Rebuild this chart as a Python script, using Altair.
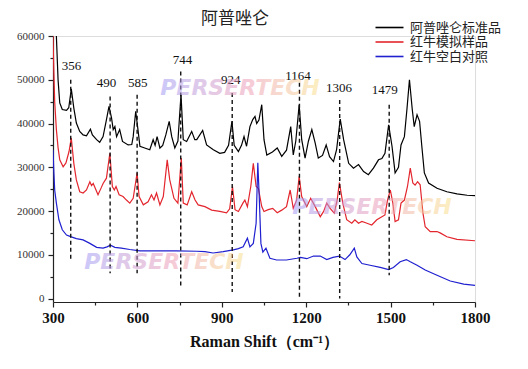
import altair as alt
import pandas as pd

# ---------------- data ----------------
series_names = ["阿普唑仑标准品", "红牛模拟样品", "红牛空白对照"]
series_colors = ["#000000", "#e3262d", "#2020d0"]

black_x = [303, 312, 318, 324, 333, 348, 356, 365, 374, 383, 395, 407, 419, 433, 440, 455, 466, 478, 490, 499,
           508, 514, 520, 526, 537, 547, 567, 580, 585, 594, 602, 609, 626, 644, 656, 663, 670, 680, 690, 701,
           713, 722, 733, 744, 755, 763, 775, 793, 804, 811, 832, 846, 870, 893, 910, 924, 936, 944, 959, 970,
           979, 988, 1000, 1010, 1018, 1024, 1032, 1042, 1050, 1060, 1080, 1097, 1113, 1130, 1145, 1154, 1163,
           1175, 1184, 1196, 1208, 1220, 1232, 1243, 1258, 1271, 1283, 1297, 1308, 1321, 1333, 1351, 1368, 1386,
           1404, 1421, 1439, 1457, 1469, 1480, 1493, 1505, 1516, 1528, 1537, 1549, 1558, 1567, 1577, 1584, 1594,
           1603, 1611, 1620, 1635, 1665, 1700, 1736, 1772, 1800]
black_y = [68000, 60000, 50000, 44700, 43200, 43000, 43600, 47900, 43500, 40100, 38200, 37400, 37200, 38700, 37400,
           36300, 35700, 37000, 40900, 43900, 41300, 38600, 39300, 37000, 38600, 35900, 35100, 35200, 37000, 42800,
           38600, 34800, 34400, 34000, 36300, 35000, 37000, 34400, 35000, 37400, 40500, 37000, 34400, 36000, 46600,
           36300, 35900, 38200, 36300, 36300, 38400, 35100, 34000, 33200, 33400, 35000, 40500, 35000, 33600, 35000,
           37000, 34800, 39300, 40900, 41600, 40000, 40800, 44300, 36300, 32800, 33500, 34400, 32500, 33900, 39300,
           32800, 36000, 44300, 36300, 32100, 36000, 38600, 35500, 32100, 32700, 35100, 32400, 31300, 34000, 41000,
           36300, 30900, 29800, 30600, 29000, 28300, 29800, 31700, 32000, 33200, 39700, 34800, 28700, 30000, 35100,
           37000, 43200, 50000, 43200, 39300, 42000, 40500, 34800, 28700, 26400, 25200, 24400, 23900, 23600, 23500]

red_x = [300, 303, 306, 312, 318, 324, 336, 346, 357, 365, 374, 383, 395, 407, 419, 431, 437, 443, 460, 472, 478,
         490, 502, 511, 518, 524, 535, 549, 561, 573, 585, 599, 606, 621, 638, 650, 659, 668, 680, 692, 706, 715,
         730, 744, 756, 763, 777, 793, 805, 816, 840, 864, 893, 917, 928, 938, 947, 959, 975, 982, 991, 1003, 1012,
         1022, 1030, 1042, 1050, 1065, 1081, 1097, 1113, 1130, 1143, 1154, 1166, 1175, 1184, 1202, 1216, 1232, 1250,
         1262, 1273, 1285, 1300, 1310, 1318, 1330, 1344, 1362, 1373, 1386, 1398, 1416, 1433, 1451, 1469, 1480, 1489,
         1499, 1508, 1516, 1528, 1537, 1549, 1560, 1570, 1579, 1587, 1596, 1605, 1615, 1623, 1641, 1665, 1676, 1700,
         1736, 1800]
red_y = [60000, 52000, 45000, 38600, 34500, 31700, 30100, 31000, 33600, 36700, 30900, 27100, 24400, 24100, 24800,
         26700, 25800, 26300, 23700, 25400, 26300, 27500, 33200, 25600, 24800, 25600, 23700, 23300, 22500, 21800,
         22900, 28700, 23300, 21400, 22100, 23700, 22500, 24100, 21400, 23300, 31700, 27100, 22900, 21800, 32100,
         21800, 21400, 24400, 22500, 21400, 21000, 20200, 19900, 19600, 20500, 25600, 20300, 19900, 21800, 22500,
         21000, 25600, 30900, 25600, 25200, 21000, 19900, 20300, 20600, 19600, 20200, 21000, 24800, 20600, 22500,
         27900, 23300, 21000, 22900, 21000, 18700, 19900, 21800, 20600, 19500, 22500, 26500, 21800, 18000, 17200,
         18000, 17200, 17600, 17200, 16800, 18000, 18700, 19100, 22500, 24800, 21800, 17600, 18000, 21800, 22500,
         25600, 29800, 26400, 25900, 26700, 26000, 19500, 16400, 15300, 15300, 15000, 14100, 13500, 13200]

blue_x = [300, 303, 306, 312, 321, 333, 348, 365, 383, 407, 431, 455, 478, 492, 504, 520, 543, 573, 609, 668, 739,
          811, 840, 869, 905, 941, 959, 976, 991, 1000, 1012, 1022, 1028, 1033, 1039, 1046, 1057, 1071, 1095, 1130,
          1167, 1180, 1202, 1226, 1250, 1273, 1295, 1318, 1338, 1355, 1371, 1380, 1398, 1427, 1463, 1493, 1510,
          1534, 1556, 1570, 1594, 1623, 1665, 1712, 1760, 1800]
blue_y = [34000, 29000, 24800, 21800, 18000, 15700, 14500, 14100, 13700, 13400, 12600, 11700, 11500, 11800, 12200,
          11700, 11500, 11200, 10900, 10900, 10900, 10800, 10700, 10400, 10700, 11100, 11400, 11800, 13800, 11800,
          12600, 17200, 31000, 23300, 12600, 10600, 11500, 9200, 8800, 8800, 9200, 9400, 9100, 9700, 9700, 8900,
          9400, 9700, 8900, 10000, 11500, 9500, 8000, 7600, 7100, 6600, 7100, 8400, 8900, 8400, 7600, 6500, 5300,
          4000, 3300, 3000]

peak_labels = ["356", "490", "585", "744", "924", "1164", "1306", "1479"]
peak_line_x = [363, 503, 599, 754, 937, 1176, 1319, 1495]
peak_line_top = [50000, 46200, 46600, 51900, 47000, 49300, 45400, 44300]
peak_line_bottom = [8800, 5800, 5800, 2700, 1500, 400, 0, 5300]
peak_label_x = [366, 490, 601, 760, 932, 1171, 1317, 1479]
peak_label_y = [53200, 49300, 49300, 54600, 50000, 50800, 48200, 47600]

title_text = "阿普唑仑"
x_title = "Raman Shift（cm⁻¹）"
x_ticks = [300, 600, 900, 1200, 1500, 1800]
x_minor = [450, 750, 1050, 1350, 1650]
y_ticks = [0, 10000, 20000, 30000, 40000, 50000, 60000]
y_minor = [5000, 15000, 25000, 35000, 45000, 55000]
watermark = "PERSERTECH"

# ---------------- tables ----------------
frames = []
for name, xs, ys in zip(series_names, [black_x, red_x, blue_x], [black_y, red_y, blue_y]):
    frames.append(pd.DataFrame({"x": xs, "y": ys, "series": name}))
df = pd.concat(frames, ignore_index=True)

peaks = pd.DataFrame({"label": peak_labels, "lx": peak_line_x, "top": peak_line_top,
                      "bottom": peak_line_bottom, "tx": peak_label_x, "ty": peak_label_y})

x_scale = alt.Scale(domain=[300, 1800], nice=False, zero=False)
y_scale = alt.Scale(domain=[-800, 60000], nice=False, zero=False)

SERIF = "Liberation Serif"
CJK = "Noto Sans CJK SC"

lines = alt.Chart(df).mark_line(strokeWidth=1.2, clip=True).encode(
    x=alt.X("x:Q", scale=x_scale,
            axis=alt.Axis(values=x_ticks, title=x_title, orient="bottom", grid=False, format="d",
                          labelFlush=False,
                          labelFont=SERIF, labelFontSize=15, labelFontWeight="bold", labelColor="#111",
                          titleFont=SERIF, titleFontSize=16, titleFontWeight="bold", titleColor="#111",
                          titlePadding=8, tickSize=5, labelPadding=3, tickColor="#222",
                          domainColor="#222", domainWidth=1.2, tickWidth=1.2)),
    y=alt.Y("y:Q", scale=y_scale,
            axis=alt.Axis(values=y_ticks, title=None, orient="left", grid=False, format="d",
                          labelFlush=False,
                          labelFont=SERIF, labelFontSize=11, labelColor="#333",
                          tickSize=5, labelPadding=4, tickColor="#222",
                          domainColor="#222", domainWidth=1.2, tickWidth=1.2)),
    color=alt.Color("series:N",
                    scale=alt.Scale(domain=series_names, range=series_colors),
                    legend=alt.Legend(title=None, orient="none", legendX=330, legendY=-15,
                                      symbolType="M-4,0H4", symbolSize=49, symbolStrokeWidth=1.6,
                                      labelFont=CJK, labelFontSize=13, labelColor="#222",
                                      labelOffset=14, rowPadding=0.5, padding=0)),
    detail="series:N",
)

minor = alt.Chart(df).mark_line(opacity=0).encode(
    x=alt.X("x:Q", scale=x_scale,
            axis=alt.Axis(values=x_minor, labels=False, title=None, orient="bottom", grid=False,
                          domain=False, tickSize=3, tickColor="#222", tickWidth=1.2)),
    y=alt.Y("y:Q", scale=y_scale,
            axis=alt.Axis(values=y_minor, labels=False, title=None, orient="left", grid=False,
                          domain=False, tickSize=3, tickColor="#222", tickWidth=1.2)),
    detail="series:N",
)

rules = alt.Chart(peaks).mark_rule(strokeDash=[4, 3], strokeWidth=1.4, color="#111").encode(
    x=alt.X("lx:Q", scale=x_scale, axis=None),
    y=alt.Y("top:Q", scale=y_scale, axis=None), y2="bottom:Q")

labels = alt.Chart(peaks).mark_text(font=SERIF, fontSize=13, color="#111", baseline="middle").encode(
    x=alt.X("tx:Q", scale=x_scale, axis=None),
    y=alt.Y("ty:Q", scale=y_scale, axis=None), text="label:N")

title = alt.Chart(pd.DataFrame({"t": [title_text]})).mark_text(
    font=CJK, fontSize=17, color="#222", baseline="middle").encode(
    text="t:N", x=alt.value(182), y=alt.value(-17))

grad = alt.LinearGradient(gradient="linear", x1=0, x2=1, y1=0, y2=0,
                          stops=[alt.GradientStop(color="#a29cf4", offset=0),
                                 alt.GradientStop(color="#ee9fb8", offset=0.55),
                                 alt.GradientStop(color="#f9e28f", offset=1)])
wm_df = pd.DataFrame({"t": [watermark]})
wm_layers = []
for wx, wy in [(187, 52), (111, 226), (319, 171)]:
    wm_layers.append(alt.Chart(wm_df).mark_text(
        font="DejaVu Sans", fontSize=22, fontWeight="bold", fontStyle="italic",
        fill=grad, opacity=0.55, baseline="middle").encode(
        text="t:N", x=alt.value(wx), y=alt.value(wy)))

chart = alt.layer(minor, lines, rules, labels, title, *wm_layers).resolve_axis(
    x="independent", y="independent").properties(
    width=422, height=266, autosize="none",
    padding={"left": 45, "top": 28, "right": 45, "bottom": 59},
).configure_view(stroke=None).configure(background="white")

chart.save("out.html", embed_options={"renderer": "svg", "actions": False})
